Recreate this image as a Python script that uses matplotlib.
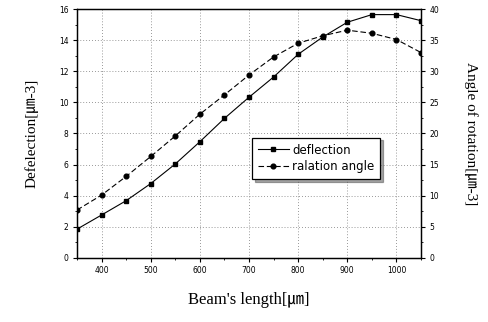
import matplotlib
matplotlib.use("Agg")
import matplotlib.pyplot as plt
from matplotlib.ticker import MultipleLocator

# dados
comprimento = [350, 400, 450, 500, 550, 600, 650, 700, 750, 800, 850, 900, 950, 1000, 1050]
deflexao = [1.85, 2.76, 3.68, 4.78, 6.04, 7.47, 8.97, 10.33, 11.63, 13.09, 14.2, 15.15, 15.64, 15.64, 15.25]
angulo = [7.7, 10.1, 13.1, 16.3, 19.6, 23.1, 26.2, 29.4, 32.3, 34.5, 35.7, 36.6, 36.1, 35.1, 33.0]

ticks_x = [400, 500, 600, 700, 800, 900, 1000]
ticks_esq = [0, 2, 4, 6, 8, 10, 12, 14, 16]
ticks_dir = [0, 5, 10, 15, 20, 25, 30, 35, 40]

fonte_serif = ["Liberation Serif", "Noto Sans CJK JP"]

fig = plt.figure(figsize=(4.89, 3.22), dpi=100)
ax = fig.add_axes([0.1575, 0.199, 0.7035, 0.773])
ax2 = ax.twinx()

l1, = ax.plot(comprimento, deflexao, color="black", lw=0.8, marker="s", ms=3.2,
              label="deflection")
l2, = ax2.plot(comprimento, angulo, color="black", lw=0.8, ls=(0, (5, 2.5)),
               marker="o", ms=3.4, label="ralation angle")

ax.set_xlim(350, 1050)
ax.set_ylim(0, 16)
ax2.set_ylim(0, 40)
ax.set_xticks(ticks_x)
ax.set_yticks(ticks_esq)
ax2.set_yticks(ticks_dir)
ax.xaxis.set_minor_locator(MultipleLocator(50))
ax.yaxis.set_minor_locator(MultipleLocator(1))
ax2.yaxis.set_minor_locator(MultipleLocator(2.5))

for a in (ax, ax2):
    a.tick_params(which="major", direction="out", length=3, width=0.8, labelsize=5.5, pad=3)
    a.tick_params(which="minor", direction="out", length=1.5, width=0.6)
    for s in a.spines.values():
        s.set_linewidth(0.9)

ax.grid(True, which="major", color="#777777", ls=(0, (1, 2.5)), lw=0.6)

ax.set_xlabel("Beam's length[㎛]", family=fonte_serif, fontsize=12, labelpad=12)
ax.set_ylabel("Defelection[㎛-3]", family=fonte_serif, fontsize=11, labelpad=15)
ax2.set_ylabel("Angle of rotation[㎛-3]", family=fonte_serif, fontsize=11,
               rotation=-90, labelpad=28)

leg = ax.legend(handles=[l1, l2], loc="center", bbox_to_anchor=(0.695, 0.40),
                fontsize=8.5, frameon=True, fancybox=False, shadow=True,
                edgecolor="black", handlelength=2.6, handletextpad=0.3,
                borderpad=0.5, labelspacing=0.3)
leg.get_frame().set_linewidth(0.9)

fig.savefig("out.png", dpi=100)
